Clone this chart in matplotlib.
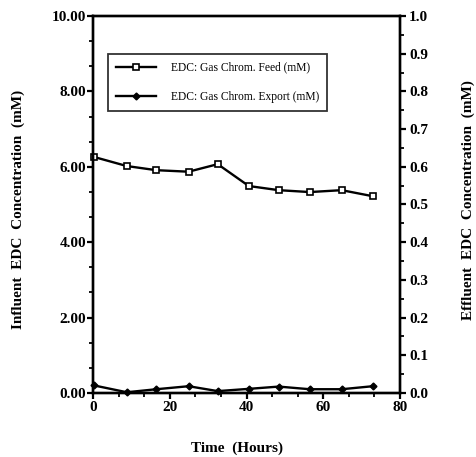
# ======================================================
# EDC Concentration vs Time (Gas Chromatography)
# ======================================================
import matplotlib
matplotlib.use("Agg")
import matplotlib.pyplot as plt
from matplotlib.ticker import MultipleLocator, FormatStrFormatter

plt.rcParams.update({
    "font.family": ["Liberation Serif", "DejaVu Serif"],
    "font.size": 10,
    "axes.linewidth": 1.7,
})

# ======================================================
# DATA
# ======================================================
time_hours = [0.3, 8.8, 16.5, 24.9, 32.5, 40.6, 48.4, 56.5, 64.8, 72.9]
feed_mM = [6.26, 6.02, 5.91, 5.87, 6.07, 5.49, 5.38, 5.33, 5.38, 5.22]
export_mM = [0.020, 0.002, 0.010, 0.018, 0.005, 0.011, 0.017, 0.010, 0.010, 0.018]

feed_label = "EDC: Gas Chrom. Feed (mM)"
export_label = "EDC: Gas Chrom. Export (mM)"

# ======================================================
# FIGURE
# ======================================================
W, H = 476, 457
fig = plt.figure(figsize=(W / 100, H / 100), dpi=100)
ax = fig.add_axes([93 / W, 1 - 393 / H, 307 / W, 377 / H])
ax2 = ax.twinx()

# Influent (feed) on the left axis
feed_line, = ax.plot(time_hours, feed_mM, color="black", lw=1.7,
                     marker="s", ms=4, mfc="white", mec="black", mew=1.2,
                     label=feed_label, clip_on=False)

# Effluent (export) on the right axis
export_line, = ax2.plot(time_hours, export_mM, color="black", lw=1.7,
                        marker="D", ms=3.5, mfc="black", mec="black",
                        label=export_label, clip_on=False)

# --- left axis ---
ax.set_xlim(0, 80)
ax.set_ylim(0, 10)
ax.xaxis.set_major_locator(MultipleLocator(20))
ax.xaxis.set_minor_locator(MultipleLocator(20 / 3))
ax.yaxis.set_major_locator(MultipleLocator(2))
ax.yaxis.set_minor_locator(MultipleLocator(2 / 3))
ax.yaxis.set_major_formatter(FormatStrFormatter("%.2f"))

# --- right axis ---
ax2.set_ylim(0, 1.0)
ax2.yaxis.set_major_locator(MultipleLocator(0.1))
ax2.yaxis.set_minor_locator(MultipleLocator(0.05))
ax2.yaxis.set_major_formatter(FormatStrFormatter("%.1f"))

for a in (ax, ax2):
    a.tick_params(which="major", direction="out", length=4.5, width=1.6,
                  labelsize=11)
    a.tick_params(which="minor", direction="out", length=3, width=1.3)
    for lbl in a.get_xticklabels() + a.get_yticklabels():
        lbl.set_fontweight("bold")
ax.tick_params(axis="x", pad=1.5)
ax.tick_params(axis="y", pad=0.5)
ax2.tick_params(axis="y", pad=2)

# Axis titles
fig.text(237 / W, 1 - 448 / H, "Time  (Hours)", fontweight="bold",
         fontsize=11, ha="center", va="center")
fig.text(18 / W, 1 - 209 / H, "Influent  EDC  Concentration  (mM)",
         fontweight="bold", fontsize=11, rotation=90, ha="center", va="center")
fig.text(468 / W, 1 - 200 / H, "Effluent  EDC  Concentration  (mM)",
         fontweight="bold", fontsize=11, rotation=90, ha="center", va="center")

# Legend (boxed, upper left)
leg = ax.legend([feed_line, export_line], [feed_label, export_label],
                loc="upper left", bbox_to_anchor=(0.049, 0.899),
                fontsize=8.3, frameon=True, fancybox=False, edgecolor="black",
                handlelength=3.5, borderpad=0.65, labelspacing=1.55,
                handletextpad=1.3, borderaxespad=0)
leg.get_frame().set_linewidth(1.3)

plt.savefig("out.png", dpi=100)
plt.close()
